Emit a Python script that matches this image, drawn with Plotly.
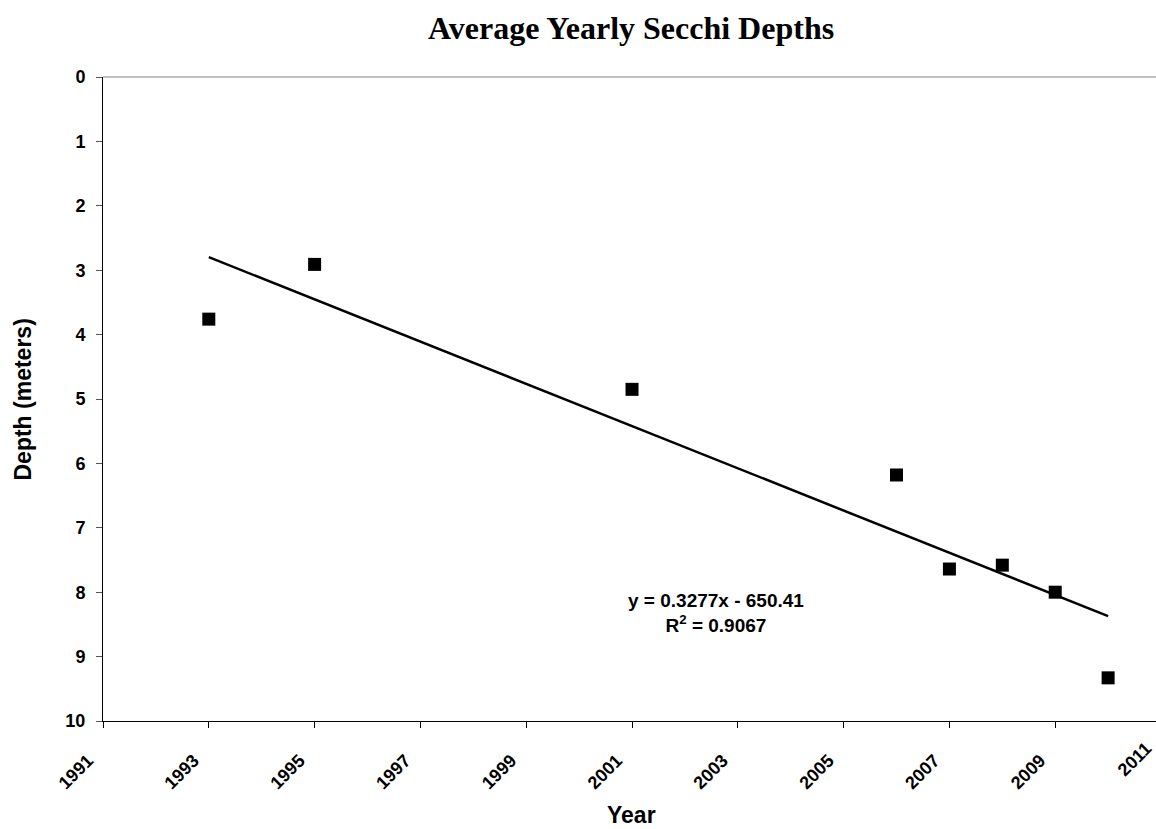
import plotly.graph_objects as go
import numpy as np

# Data
years = [1993, 1995, 2001, 2006, 2007, 2008, 2009, 2010]
depths = [3.76, 2.91, 4.85, 6.18, 7.64, 7.58, 8.00, 9.33]
x_tick_vals = [1991, 1993, 1995, 1997, 1999, 2001, 2003, 2005, 2007, 2009, 2011]
y_tick_vals = [0, 1, 2, 3, 4, 5, 6, 7, 8, 9, 10]
chart_title = "Average Yearly Secchi Depths"
x_title = "Year"
y_title = "Depth (meters)"
equation_text = "y = 0.3277x - 650.41<br>R<sup>2</sup> = 0.9067"

# Linear trendline fitted to the data
slope, intercept = np.polyfit(years, depths, 1)
trend_x = [min(years), max(years)]
trend_y = [slope * v + intercept for v in trend_x]

SANS = "Liberation Sans"
SERIF = "Liberation Serif"
TICK_FONT = dict(family=SANS, size=18, color="black", weight="bold")

fig = go.Figure()
fig.add_trace(go.Scatter(
    x=years, y=depths, mode="markers",
    marker=dict(symbol="square", size=13, color="black", line=dict(width=0)),
    showlegend=False, cliponaxis=False,
))
fig.add_trace(go.Scatter(
    x=trend_x, y=trend_y, mode="lines",
    line=dict(color="black", width=2.5),
    showlegend=False,
))

fig.update_layout(
    width=1156, height=829,
    margin=dict(l=103, r=0, t=77, b=108, pad=0),
    paper_bgcolor="white", plot_bgcolor="white",
    xaxis=dict(
        range=[1991, 2010.905], tickvals=x_tick_vals, tickangle=-45,
        tickfont=TICK_FONT, ticklabelstandoff=15, ticklabelshift=-15,
        showline=True, linecolor="black", linewidth=1,
        ticks="outside", ticklen=6, tickcolor="black", tickwidth=1,
        showgrid=False, zeroline=False,
    ),
    yaxis=dict(
        range=[10, 0], tickvals=y_tick_vals,
        tickfont=TICK_FONT, ticklabelstandoff=7,
        showline=True, linecolor="black", linewidth=1,
        ticks="outside", ticklen=6, tickcolor="#555555", tickwidth=1,
        showgrid=False, zeroline=False,
    ),
    shapes=[dict(type="line", xref="paper", yref="paper", x0=0, x1=1, y0=1, y1=1,
                 line=dict(color="#808080", width=1))],
    annotations=[
        dict(text=chart_title, xref="paper", yref="paper", x=0.501, y=1.076,
             xanchor="center", yanchor="middle", showarrow=False,
             font=dict(family=SERIF, size=32, color="black", weight="bold")),
        dict(text=y_title, xref="paper", yref="paper", x=-0.0755, y=0.5,
             xanchor="center", yanchor="middle", showarrow=False, textangle=-90,
             font=dict(family=SANS, size=23, color="black", weight="bold")),
        dict(text=x_title, xref="paper", yref="paper", x=0.502, y=-0.1464,
             xanchor="center", yanchor="middle", showarrow=False,
             font=dict(family=SANS, size=23, color="black", weight="bold")),
        dict(text=equation_text, xref="paper", yref="paper", x=0.582, y=0.168,
             xanchor="center", yanchor="middle", showarrow=False, align="center",
             font=dict(family=SANS, size=19, color="black", weight="bold")),
        dict(text=str(x_tick_vals[-1]), xref="paper", yref="paper", x=0.980, y=-0.059,
             xanchor="center", yanchor="middle", showarrow=False, textangle=-45,
             font=TICK_FONT),
    ],
)

fig.write_html("out.html", config={"displayModeBar": False},
               post_script="document.body.style.margin='0';")
